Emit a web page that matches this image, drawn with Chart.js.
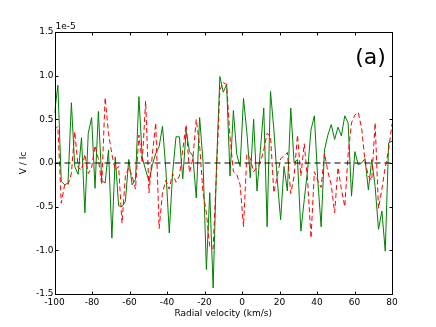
<!DOCTYPE html>
<html><head><meta charset="utf-8">
<script src="https://cdn.jsdelivr.net/npm/chart.js@4/dist/chart.umd.min.js"></script>
<style>html,body{margin:0;padding:0;background:#fff;overflow:hidden}canvas{display:block}</style>
</head><body>
<canvas id="c" width="436" height="327"></canvas>
<script>
const velocity = [-100,-98.2,-96.4,-94.6,-92.8,-91,-89.2,-87.4,-85.6,-83.8,-82,-80.2,-78.4,-76.6,-74.8,-73,-71.2,-69.4,-67.6,-65.8,-64,-62.2,-60.4,-58.6,-56.8,-55,-53.2,-51.4,-49.6,-47.8,-46,-44.2,-42.4,-40.6,-38.8,-37,-35.2,-33.4,-31.6,-29.8,-28,-26.2,-24.4,-22.6,-20.8,-19,-17.2,-15.4,-13.6,-11.8,-10,-8.2,-6.4,-4.6,-2.8,-1,0.8,2.6,4.4,6.2,8,9.8,11.6,13.4,15.2,17,18.8,20.6,22.4,24.2,26,27.8,29.6,31.4,33.2,35,36.8,38.6,40.4,42.2,44,45.8,47.6,49.4,51.2,53,54.8,56.6,58.4,60.2,62,63.8,65.6,67.4,69.2,71,72.8,74.6,76.4,78.2,80];
const stokesGreen = [0.57,0.89,-0.21,-0.25,-0.23,0.69,-0.04,-0.13,0.29,-0.57,0.34,0.52,-0.29,0.59,-0.2,-0.23,0.15,-0.86,0.07,-0.49,-0.50,-0.44,0.04,-0.25,-0.19,0.76,0.06,-0.08,-0.21,-0.02,0.11,0.19,0.42,-0.08,-0.80,-0.11,0.30,0.30,-0.18,0.37,0.13,0.08,-0.40,0.52,0.02,-1.22,-0.34,-1.43,-0.04,0.99,0.81,0.90,-0.15,0.60,0.10,-0.04,0.74,0.35,-0.17,0.50,-0.32,0.15,0.63,-0.73,0.82,0.38,-0.19,-0.65,-0.04,-0.32,0.63,0.0,0.04,-0.78,-0.42,-0.08,0.38,0.54,-0.19,-0.73,0.15,0.32,0.44,0.27,0.41,0.31,0.54,0.46,-0.38,0.13,-0.02,0.0,0.05,-0.31,0.04,-0.27,-0.76,-0.55,-1.01,0.23,0.25];
const stokesRed = [0.38,0.42,-0.46,-0.25,-0.25,-0.12,0.36,-0.05,-0.08,0.1,-0.12,-0.05,0.2,0.05,-0.25,0.75,0.34,0.1,-0.08,-0.04,-0.69,-0.15,-0.05,-0.15,-0.30,0.32,0.0,0.71,-0.34,0.1,0.46,-0.75,-0.34,-0.2,-0.3,-0.12,-0.22,-0.15,0.15,0.44,-0.11,0.05,0.5,0.2,-0.34,-0.57,-0.96,-0.98,-0.1,0.84,0.92,0.9,0.3,-0.1,-0.13,-0.25,-0.73,0.1,0.05,-0.1,-0.05,0.0,0.15,0.34,0.3,-0.34,-0.15,0.05,0.08,0.12,-0.35,-0.15,0.32,-0.15,0.22,-0.2,-0.86,-0.1,-0.2,-0.28,0.11,-0.1,-0.25,-0.57,-0.05,-0.3,-0.5,0.1,0.46,0.55,0.58,0.4,0.02,-0.15,-0.2,0.46,-0.52,-0.3,-0.05,0.15,0.45];
const zeroX = [-100, 80];
const zeroY = [0, 0];
const xTicks = [-100,-80,-60,-40,-20,0,20,40,60,80];
const yTicks = [-1.5,-1.0,-0.5,0.0,0.5,1.0,1.5];
const xTitle = 'Radial velocity (km/s)';
const yTitle = 'V / Ic';
const panelLabel = '(a)';
const offsetLabel = '1e-5';

const FONT = 'DejaVu Sans';

const framePlugin = {
  id: 'frame',
  afterDraw(chart) {
    const {ctx, chartArea: a, scales} = chart;
    ctx.save();
    ctx.strokeStyle = '#000';
    ctx.lineWidth = 1;
    const L = Math.round(a.left) + 0.5, R = Math.round(a.right) + 0.5;
    const T = Math.round(a.top) + 0.5, B = Math.round(a.bottom) + 0.5;
    ctx.strokeRect(L, T, R - L, B - T);
    const tl = 3;
    ctx.beginPath();
    xTicks.forEach(v => {
      const x = Math.round(scales.x.getPixelForValue(v)) + 0.5;
      ctx.moveTo(x, B); ctx.lineTo(x, B - tl);
      ctx.moveTo(x, T); ctx.lineTo(x, T + tl);
    });
    yTicks.forEach(v => {
      const y = Math.round(scales.y.getPixelForValue(v)) + 0.5;
      ctx.moveTo(L, y); ctx.lineTo(L + tl, y);
      ctx.moveTo(R, y); ctx.lineTo(R - tl, y);
    });
    ctx.stroke();
    ctx.fillStyle = '#000';
    ctx.font = '9px "' + FONT + '"';
    ctx.textAlign = 'left';
    ctx.textBaseline = 'bottom';
    ctx.fillText(offsetLabel, a.left + 1, a.top - 1);
    ctx.font = '22px "' + FONT + '"';
    ctx.textAlign = 'center';
    ctx.textBaseline = 'middle';
    ctx.fillText(panelLabel, 370.5, 58);
    ctx.restore();
  }
};

new Chart(document.getElementById('c'), {
  type: 'line',
  data: {
    datasets: [
      {
        label: 'zero',
        data: zeroX.map((x, i) => ({x, y: zeroY[i]})),
        borderColor: '#000', borderWidth: 1, borderDash: [6, 4],
        pointRadius: 0, fill: false, order: 0
      },
      {
        label: 'red',
        data: velocity.map((x, i) => ({x, y: stokesRed[i]})),
        borderColor: '#ff0000', borderWidth: 1, borderDash: [5, 3],
        pointRadius: 0, tension: 0, fill: false, order: 1
      },
      {
        label: 'green',
        data: velocity.map((x, i) => ({x, y: stokesGreen[i]})),
        borderColor: '#008000', borderWidth: 1,
        pointRadius: 0, tension: 0, fill: false, order: 2
      }
    ]
  },
  options: {
    responsive: false,
    animation: false,
    devicePixelRatio: 1,
    layout: {padding: {left: 0, right: 44, top: 32, bottom: 0}},
    plugins: {legend: {display: false}, tooltip: {enabled: false}},
    scales: {
      x: {
        type: 'linear', min: -100, max: 80,
        afterBuildTicks: s => { s.ticks = xTicks.map(v => ({value: v})); },
        afterFit: s => { s.height = 33; },
        grid: {display: false, drawTicks: false},
        border: {display: false},
        ticks: {color: '#000', font: {family: FONT, size: 9}, padding: 3, maxRotation: 0, autoSkip: false,
          callback: v => String(v)},
        title: {display: true, text: xTitle, color: '#000', font: {family: FONT, size: 9}, padding: {top: 0, bottom: 8}}
      },
      y: {
        type: 'linear', min: -1.5, max: 1.5,
        afterBuildTicks: s => { s.ticks = yTicks.map(v => ({value: v})); },
        afterFit: s => { s.width = 54.5; },
        grid: {display: false, drawTicks: false},
        border: {display: false},
        ticks: {color: '#000', font: {family: FONT, size: 9}, padding: 1, autoSkip: false,
          callback: v => Number(v).toFixed(1)},
        title: {display: true, text: yTitle, color: '#000', font: {family: FONT, size: 9}, padding: {top: 18, bottom: 0}}
      }
    }
  },
  plugins: [framePlugin]
});
</script>
</body></html>
